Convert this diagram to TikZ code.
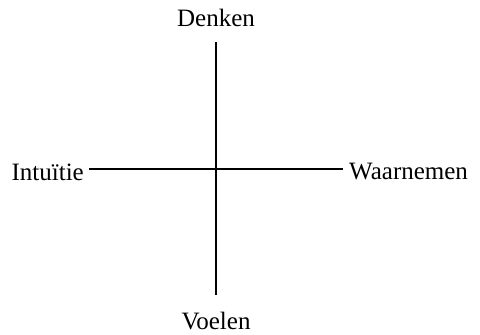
\documentclass[tikz,border=0pt]{standalone}
\usepackage{fontspec}
\setmainfont{Liberation Serif}
\begin{document}
\begin{tikzpicture}[x=1pt,y=-1pt,
  lbl/.style={inner sep=0pt,font=\fontsize{25}{29}\selectfont},
  axis/.style={draw=black,line width=1.3pt}]
\useasboundingbox (0,0) rectangle (480,335);
\node[lbl] (denken) at (216,18) {Denken};
\node[lbl] (voelen) at (216,321) {Voelen};
\node[lbl,anchor=east] (intuitie) at (84,172) {Intuïtie};
\node[lbl,anchor=west] (waarnemen) at (349,172) {Waarnemen};
\coordinate (t) at (216,42);
\coordinate (b) at (216,295);
\coordinate (l) at (89,169);
\coordinate (r) at (343,169);
\draw[axis] (t) -- (b);
\draw[axis] (l) -- (r);
\end{tikzpicture}
\end{document}
